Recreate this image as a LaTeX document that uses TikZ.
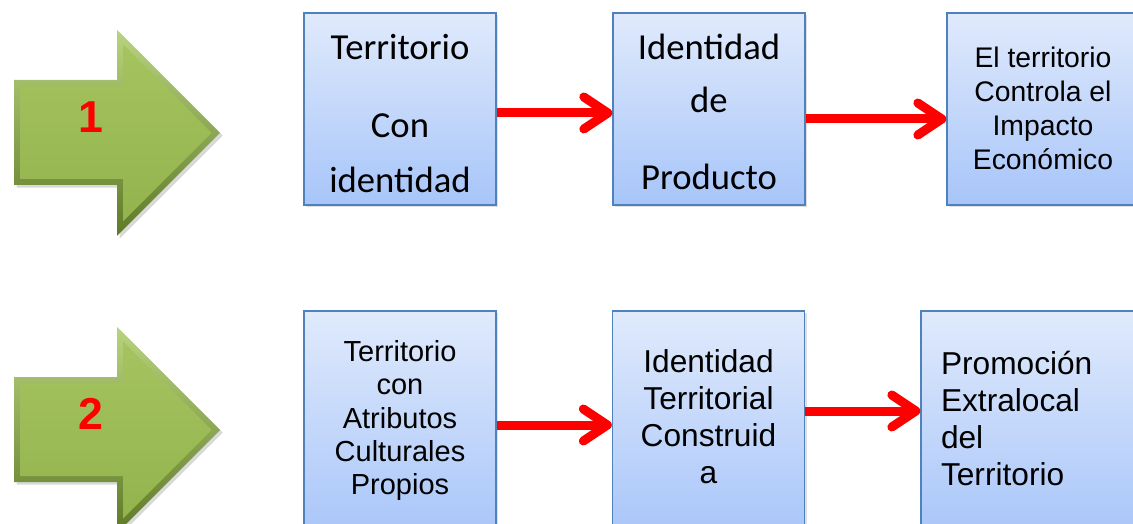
\documentclass[tikz,border=0pt]{standalone}
\usepackage{fontspec}
\setmainfont{Liberation Sans}
\newfontfamily\carlito{Carlito}
\usetikzlibrary{arrows.meta, shadows}

\definecolor{bordeAzul}{HTML}{4F81BD}
\definecolor{azulClaro}{HTML}{E0EAFC}
\definecolor{azulOscuro}{HTML}{A7C5F9}
\definecolor{verdeClaro}{HTML}{B9D47F}
\definecolor{verdeOscuro}{HTML}{5E7A27}
\definecolor{verdeMedio}{HTML}{A5C460}
\definecolor{verdeBajo}{HTML}{93B34D}

\tikzset{
  caja/.style={draw=bordeAzul, line width=1pt, top color=azulClaro, bottom color=azulOscuro,
    minimum width=144pt, inner xsep=2pt, inner ysep=0pt, align=center,
    drop shadow={shadow xshift=1.5pt, shadow yshift=-1.5pt, opacity=0.25}},
  flechaRoja/.style={draw=red, line width=6.75pt, -{Straight Barb[length=18pt, width=24pt, round]}},
  numero/.style={text=red, font=\bfseries\fontsize{33.5}{36}\selectfont},
  flecha/.pic={
    % contorno con bisel
    \path[drop shadow={shadow xshift=2pt, shadow yshift=-2pt, opacity=0.3},
      top color=verdeClaro, bottom color=verdeOscuro]
      (14,80) -- (117,80) -- (117,30) -- (220,133) -- (117,236) -- (117,185) -- (14,185) -- cycle;
    % cara interior
    \path[top color=verdeMedio, bottom color=verdeBajo]
      (20,86) -- (123,86) -- (123,44.5) -- (211.5,133) -- (123,221.5) -- (123,179) -- (20,179) -- cycle;
  }
}

\begin{document}
\begin{tikzpicture}[x=0.75pt, y=-0.75pt]
    \useasboundingbox (0,0) rectangle (1133,524);

    % Flechas verdes
    \pic (f1) at (0,0) {flecha};
    \pic (f2) at (0,297) {flecha};
    \node[numero] (n1) at (90.5,117.5) {1};
    \node[numero] (n2) at (91,413.5) {2};

    % Primera fila
    \node[caja, minimum height=144pt, font=\carlito\fontsize{27.5}{41.25}\selectfont] (t1) at (400,109)
        {\rule{0pt}{33.75pt}Territorio\\[17.25pt]Con\\identidad\rule[-7.5pt]{0pt}{7.5pt}};
    \node[caja, minimum height=144pt, font=\carlito\fontsize{27.5}{39.75}\selectfont] (t2) at (709,109)
        {\rule{0pt}{31.5pt}Identidad\\de\\[18pt]Producto\rule[-7.5pt]{0pt}{7.5pt}};
    \node[caja, minimum height=144pt, font=\fontsize{21.25}{25.5}\selectfont] (t3) at (1043,109)
        {\rule{0pt}{22.5pt}El territorio\\Controla el\\Impacto\\Económico\rule[-7.5pt]{0pt}{7.5pt}};

    % Segunda fila
    \node[caja, minimum height=172.5pt, font=\fontsize{21.75}{25.1}\selectfont] (b1) at (400,426)
        {\rule{0pt}{18pt}Territorio\\con\\Atributos\\Culturales\\Propios\rule[-15pt]{0pt}{15pt}};
    \node[caja, minimum height=172.5pt, font=\fontsize{23.75}{27.75}\selectfont] (b2) at (708.5,426)
        {\rule{0pt}{18pt}Identidad\\Territorial\\Construid\\a\rule[-15pt]{0pt}{15pt}};
    \node[caja, minimum height=172.5pt, align=left, text width=141.75pt, inner xsep=15pt,
        font=\fontsize{23.75}{27.75}\selectfont] (b3) at (1035.5,426)
        {\rule{0pt}{21pt}Promoción\\Extralocal\\del\\Territorio\rule[-15pt]{0pt}{15pt}};

    % Flechas rojas
    \draw[flechaRoja] ([yshift=-3pt]t1.east) -- ([yshift=-3pt]t2.west);
    \draw[flechaRoja] ([yshift=-7.5pt]t2.east) -- ([yshift=-7.5pt]t3.west);
    \draw[flechaRoja] ([yshift=0.75pt]b1.east) -- ([yshift=0.75pt]b2.west);
    \draw[flechaRoja] ([yshift=11.25pt]b2.east) -- ([yshift=11.25pt]b3.west);
\end{tikzpicture}
\end{document}
